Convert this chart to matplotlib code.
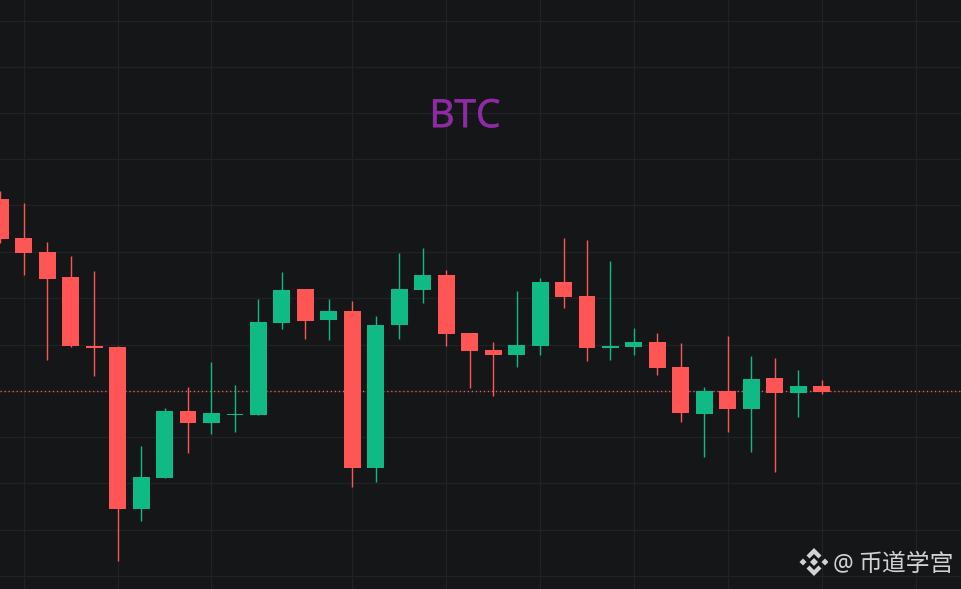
import matplotlib
matplotlib.use('Agg')
import matplotlib.pyplot as plt
import matplotlib.patheffects as pe
from matplotlib.patches import Polygon
import numpy as np

opens = [390, 351, 337, 312, 243, 242, 80, 111, 178, 166, 174, 174,
         266, 300, 269, 278, 121, 264, 299, 314, 256, 239, 234, 243,
         307, 293, 241, 242, 247, 222, 175, 198, 180, 211, 196, 203]
highs = [398, 386, 347, 333, 318, 243, 143, 181, 202, 227, 204, 290,
         317, 300, 290, 288, 273, 336, 341, 319, 256, 247, 298, 311,
         351, 349, 328, 261, 256, 246, 202, 253, 233, 231, 219, 209]
lows = [346, 314, 229, 242, 213, 28, 68, 111, 136, 155, 157, 174,
        260, 250, 249, 102, 107, 250, 286, 243, 201, 193, 222, 234,
        281, 228, 229, 234, 214, 167, 132, 157, 137, 117, 172, 195]
closes = [350, 336, 310, 243, 241, 80, 112, 178, 166, 176, 175, 267,
          299, 268, 278, 121, 264, 300, 314, 255, 238, 234, 244, 307,
          292, 241, 243, 247, 221, 176, 198, 180, 210, 196, 203, 197]

grid_x = [1, 5, 9, 15, 19, 23, 27, 31, 35, 39]
grid_y = [13, 59.5, 106, 152, 198, 244.5, 291, 337, 384, 430, 476, 522.5, 568.5]
last_price = 198

bg = '#141618'
grid_col = '#202225'
up_col = '#10ba85'
down_col = '#ff5555'

fig = plt.figure(figsize=(9.62, 5.89), dpi=100, facecolor=bg)
ax = fig.add_axes([0, 0, 1, 1], facecolor=bg)

for x in grid_x:
    ax.axvline(x, color=grid_col, lw=0.9, zorder=1)
for y in grid_y:
    ax.axhline(y, color=grid_col, lw=0.9, zorder=1)

ax.axhline(last_price, color=down_col, lw=1.0, ls=(0, (0.9, 2.0)), zorder=2)

idx = np.arange(len(opens))
o = np.array(opens)
c = np.array(closes)
colors = [up_col if c[i] > o[i] else down_col for i in idx]

wicks = ax.vlines(idx, lows, highs, colors=colors, lw=1.0, zorder=3)
wicks.set_snap(True)
ax.bar(idx, np.abs(c - o), bottom=np.minimum(o, c), width=0.72, color=colors, lw=0, zorder=4)

ax.set_xlim(-0.012, 40.979)
ax.set_ylim(0, 589)
ax.axis('off')

title = ax.text(0.4832, 0.8012, 'BTC', transform=ax.transAxes, color='#8e2aa3', fontsize=28,
                family='Open Sans', ha='center', va='center', zorder=5)
title.set_path_effects([pe.withStroke(linewidth=0.5, foreground='#8e2aa3')])

ax.text(0.8655, 0.042, '@', transform=ax.transAxes, color='#d2d2d2', fontsize=16.5,
        family='Noto Sans', ha='left', va='center', zorder=5)
ax.text(0.8925, 0.042, '币道学宫', transform=ax.transAxes, color='#d2d2d2', fontsize=17.2,
        family='Noto Sans CJK SC', ha='left', va='center', zorder=5)

# logo
logo = fig.add_axes([799.5 / 962, 1 - 576.5 / 589, 29 / 962, 29 / 589])
logo.set_xlim(-14.5, 14.5)
logo.set_ylim(-14.5, 14.5)
logo.axis('off')
top = [(0, 14), (7.5, 6.5), (4.5, 3.5), (0, 8), (-4.5, 3.5), (-7.5, 6.5)]
bottom = [(px, -py) for px, py in top]
left = [(-14.5, 0), (-11, 3.5), (-7.5, 0), (-11, -3.5)]
right = [(14.5, 0), (11, 3.5), (7.5, 0), (11, -3.5)]
mid = [(0, 4), (4, 0), (0, -4), (-4, 0)]
for pts in [top, bottom, left, right, mid]:
    logo.add_patch(Polygon(pts, closed=True, color='#d2d2d2', lw=0))

fig.savefig('out.png', dpi=100, facecolor=bg)
